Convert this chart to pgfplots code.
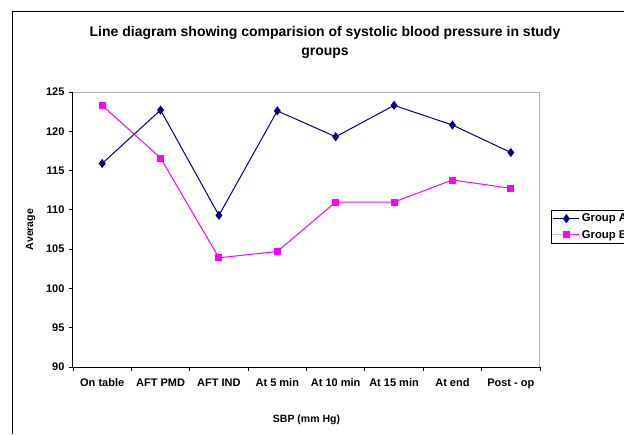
\documentclass[border=0pt]{standalone}
\usepackage{pgfplots}
\pgfplotsset{compat=1.18}
\usepackage{fontspec}
\setmainfont{Liberation Sans}
\definecolor{navyA}{RGB}{0,0,128}
\definecolor{magB}{RGB}{255,0,255}
\begin{document}
\begin{tikzpicture}[x=1pt,y=1pt]
\path[use as bounding box] (0,0) rectangle (624,434);
\fill[white] (0,0) rectangle (624,434);
\draw[black,line width=1.3pt] (12.5,0) -- (12.5,422.5) -- (624,422.5);
\draw[black,line width=1.3pt] (12.5,422.5) -- (624,422.5);
\node[font=\bfseries\fontsize{14}{19}\selectfont,align=center] at (325,391.5) {Line diagram showing comparision of systolic blood pressure in study\\groups};
\begin{scope}
\clip (0,0) rectangle (624,434);
\begin{axis}[
  at={(73pt,67pt)}, anchor=south west,
  scale only axis, width=467pt, height=275pt,
  xmin=0.5, xmax=8.5, ymin=90, ymax=125,
  ytick={90,95,...,125},
  xtick={1,...,8},
  xticklabels={On table,AFT PMD,AFT IND,At 5 min,At 10 min,At 15 min,At end,Post - op},
  minor xtick={0.5,1.5,...,8.5},
  major x tick style={draw=none},
  tick align=outside, xtick pos=bottom, ytick pos=left,
  major tick length=4pt, minor tick length=4pt,
  tick style={black, line width=0.8pt},
  axis line style={draw=gray!60, line width=1pt},
  ticklabel style={font=\bfseries\fontsize{11}{13}\selectfont},
  /pgf/number format/assume math mode=true,
  xticklabel style={yshift=-4pt},
  yticklabel style={xshift=-1pt},
  xlabel={SBP (mm Hg)}, ylabel={Average},
  label style={font=\bfseries\fontsize{10.5}{12}\selectfont},
  xlabel style={yshift=-20pt},
  ylabel style={yshift=4pt},
  legend style={at={(478pt,157pt)}, anchor=north west, draw=black, line width=0.8pt,
    font=\bfseries\fontsize{11.3}{13}\selectfont, inner sep=1.5pt, row sep=3pt},
  legend cell align=left,
  legend image code/.code={\draw[mark repeat=2,mark phase=2] plot coordinates {(0pt,0pt) (13pt,0pt) (26pt,0pt)};},
  clip=false,
]
\addplot[navyA, line width=1pt, mark=diamond*, mark size=3.8pt, mark options={solid,fill=navyA}] coordinates {
 (1,115.9) (2,122.7) (3,109.3) (4,122.6) (5,119.3) (6,123.3) (7,120.8) (8,117.3)};
\addlegendentry{Group A}
\addplot[magB, line width=1pt, mark=square*, mark size=3pt, mark options={solid,fill=magB}] coordinates {
 (1,123.3) (2,116.6) (3,103.9) (4,104.7) (5,111.0) (6,111.0) (7,113.8) (8,112.75)};
\addlegendentry{Group B}
\draw[black, line width=1pt] (rel axis cs:0,1) -- (rel axis cs:0,0) -- (rel axis cs:1,0);
\end{axis}
\end{scope}
\end{tikzpicture}
\end{document}
